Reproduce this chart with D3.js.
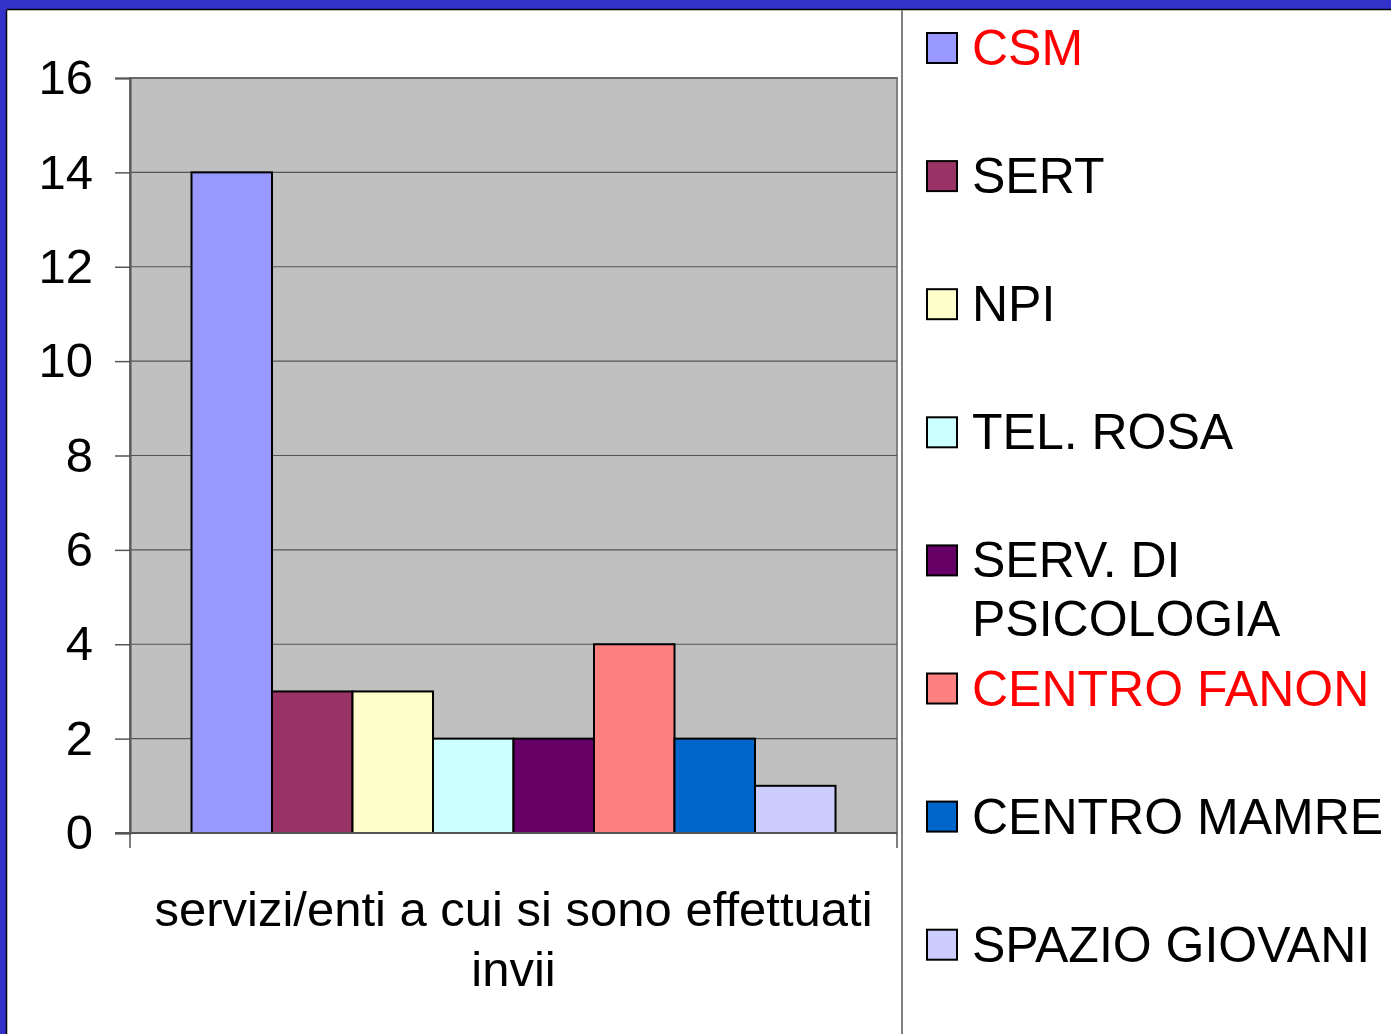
<!DOCTYPE html>
<html>
<head>
<meta charset="utf-8">
<script src="https://cdn.jsdelivr.net/npm/d3@7"></script>
<style>
  html, body { margin: 0; padding: 0; background: #fff; }
  svg { display: block; font-family: "Liberation Sans", Arial, sans-serif; }
</style>
</head>
<body>
<div id="chartHolder"></div>
<script>
// data
const categories = ["servizi/enti a cui si sono effettuati invii"];
const seriesNames = ["CSM", "SERT", "NPI", "TEL. ROSA", "SERV. DI PSICOLOGIA",
  "CENTRO FANON", "CENTRO MAMRE", "SPAZIO GIOVANI"];
const seriesValues = [14, 3, 3, 2, 2, 4, 2, 1];
const seriesColors = ["#9999FF", "#993366", "#FFFFCC", "#CCFFFF", "#660066",
  "#FF8080", "#0066CC", "#CCCCFF"];
const legendLines = [["CSM"], ["SERT"], ["NPI"], ["TEL. ROSA"], ["SERV. DI", "PSICOLOGIA"],
  ["CENTRO FANON"], ["CENTRO MAMRE"], ["SPAZIO GIOVANI"]];
const highlighted = ["CSM", "CENTRO FANON"]; // red legend text
const yTicks = [0, 2, 4, 6, 8, 10, 12, 14, 16];
const xLabelLines = ["servizi/enti a cui si sono effettuati", "invii"];

const W = 1391, H = 1034;
const plot = { left: 130, right: 897, top: 78, bottom: 833 };

const svg = d3.select("#chartHolder").append("svg")
  .attr("width", W)
  .attr("height", H);

// slide frame: blue band top and left, thin black edge
svg.append("rect").attr("width", W).attr("height", H).attr("fill", "#fff");
svg.append("rect").attr("x", 0).attr("y", 0).attr("width", W).attr("height", 9).attr("fill", "#3333CC");
svg.append("rect").attr("x", 0).attr("y", 0).attr("width", 6).attr("height", H).attr("fill", "#3333CC");
svg.append("line").attr("x1", 6.5).attr("x2", W).attr("y1", 9.5).attr("y2", 9.5).attr("stroke", "#000").attr("stroke-width", 1.5);
svg.append("line").attr("x1", 6.5).attr("x2", 6.5).attr("y1", 9.5).attr("y2", H).attr("stroke", "#000").attr("stroke-width", 1.5);

// separator between chart and legend
svg.append("line")
  .attr("x1", 902).attr("x2", 902).attr("y1", 10).attr("y2", H)
  .attr("stroke", "#808080").attr("stroke-width", 2);

// scales
const y = d3.scaleLinear().domain([0, 16]).range([plot.bottom, plot.top]);
const x0 = d3.scaleBand().domain(categories).range([plot.left, plot.right]).paddingOuter(0.0955);
const x1 = d3.scaleBand().domain(seriesNames).range([0, x0.bandwidth()]);

// plot background
svg.append("rect")
  .attr("x", plot.left).attr("y", plot.top)
  .attr("width", plot.right - plot.left).attr("height", plot.bottom - plot.top)
  .attr("fill", "#C0C0C0")
  .attr("stroke", "#808080").attr("stroke-width", 2);

// gridlines
svg.append("g").selectAll("line")
  .data(yTicks.filter(d => d > 0))
  .enter().append("line")
    .attr("x1", plot.left).attr("x2", plot.right)
    .attr("y1", d => y(d)).attr("y2", d => y(d))
    .attr("stroke", "#555").attr("stroke-width", 1.2);

// y axis
const yAxis = svg.append("g")
  .attr("transform", `translate(${plot.left},0)`)
  .call(d3.axisLeft(y).tickValues(yTicks).tickSize(15).tickPadding(22));
yAxis.select(".domain").attr("stroke", "#555").attr("stroke-width", 2);
yAxis.selectAll(".tick line").attr("stroke", "#555").attr("stroke-width", 1.5);
yAxis.selectAll(".tick text")
  .attr("fill", "#000")
  .style("font-size", "49px")
  .style("font-family", "'Liberation Sans', Arial, sans-serif");

// bars
svg.append("g").selectAll("rect")
  .data(seriesNames.map((s, i) => ({ name: s, value: seriesValues[i], color: seriesColors[i] })))
  .enter().append("rect")
    .attr("x", d => x0(categories[0]) + x1(d.name))
    .attr("y", d => y(d.value))
    .attr("width", x1.bandwidth())
    .attr("height", d => y(0) - y(d.value))
    .attr("fill", d => d.color)
    .attr("stroke", "#000")
    .attr("stroke-width", 2);

// x axis (baseline and end ticks)
svg.append("line")
  .attr("x1", plot.left - 15).attr("x2", plot.right)
  .attr("y1", plot.bottom).attr("y2", plot.bottom)
  .attr("stroke", "#555").attr("stroke-width", 2);
svg.append("g").selectAll("line")
  .data(x0.range())
  .enter().append("line")
    .attr("x1", d => d).attr("x2", d => d)
    .attr("y1", plot.bottom).attr("y2", plot.bottom + 15)
    .attr("stroke", "#555").attr("stroke-width", 1.5);

// category label
svg.append("text")
  .attr("x", (plot.left + plot.right) / 2)
  .attr("y", 926)
  .attr("text-anchor", "middle")
  .style("font-size", "49px")
  .selectAll("tspan")
  .data(xLabelLines)
  .enter().append("tspan")
    .attr("x", (plot.left + plot.right) / 2)
    .attr("dy", (d, i) => i === 0 ? 0 : 60)
    .text(d => d);

// legend
const legend = svg.append("g").selectAll("g")
  .data(seriesNames)
  .enter().append("g")
    .attr("transform", (d, i) => `translate(927,${65 + i * 128.1})`);

legend.append("rect")
  .attr("x", 0).attr("y", -32)
  .attr("width", 30).attr("height", 30)
  .attr("fill", (d, i) => seriesColors[i])
  .attr("stroke", "#000").attr("stroke-width", 2);

legend.append("text")
  .attr("x", 45)
  .style("font-size", "50px")
  .attr("fill", d => highlighted.includes(d) ? "#FF0000" : "#000")
  .selectAll("tspan")
  .data((d, i) => legendLines[i])
  .enter().append("tspan")
    .attr("x", 45)
    .attr("dy", (d, i) => i === 0 ? 0 : 59)
    .text(d => d);
</script>
</body>
</html>
